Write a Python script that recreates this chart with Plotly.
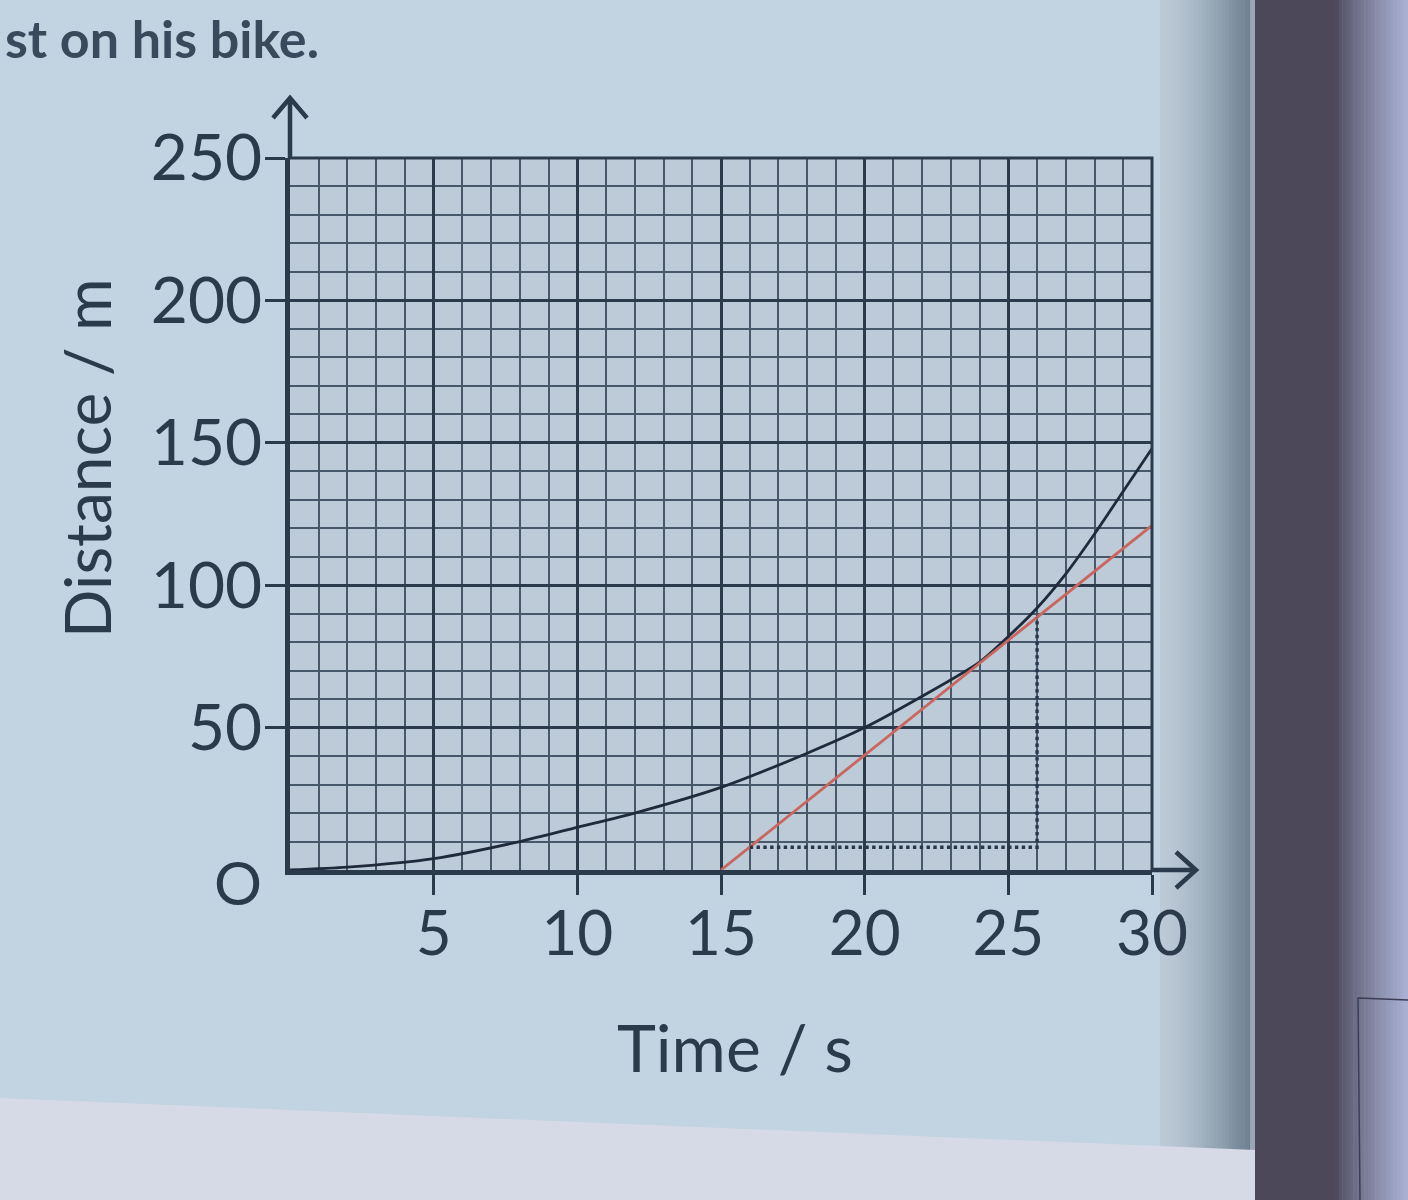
import plotly.graph_objects as go

# ---- data ----
time_s = [0, 2, 5, 8, 10, 12, 15, 18, 20, 22, 24, 25, 26, 27, 28, 29, 30]
distance_m = [0, 1, 4, 10, 15, 20, 29, 41, 50, 61, 73, 82, 92, 104, 118, 133, 148]

tangent_t = [15, 30]
tangent_d = [0, 121]

triangle_t = [16, 26, 26]
triangle_d = [8, 8, 88.7]

x_ticks = [5, 10, 15, 20, 25, 30]
y_ticks = [50, 100, 150, 200, 250]

# ---- layout geometry ----
W, H = 1408, 1200
L, R, T, B = 290, 256, 158, 330
PW, PH = W - L - R, H - T - B


def px(x):
    return (x - L) / PW


def py(y):
    return 1 - (y - T) / PH


INK = "#2c3b4c"
FONT = "Lato"

fig = go.Figure()

fig.add_trace(go.Scatter(x=time_s, y=distance_m, mode="lines",
                         line=dict(color="#1f2b3b", width=2.8, shape="spline", smoothing=0.7),
                         hoverinfo="skip", showlegend=False))
fig.add_trace(go.Scatter(x=tangent_t, y=tangent_d, mode="lines",
                         line=dict(color="#c9675e", width=2.8),
                         hoverinfo="skip", showlegend=False))
fig.add_trace(go.Scatter(x=triangle_t, y=triangle_d, mode="lines",
                         line=dict(color="#27364a", width=3.4, dash="dot"),
                         hoverinfo="skip", showlegend=False))

shapes = []


def rect(x0, y0, x1, y1, color):
    shapes.append(dict(type="rect", xref="paper", yref="paper",
                       x0=px(x0), x1=px(x1), y0=py(y1), y1=py(y0),
                       fillcolor=color, line=dict(width=0), layer="below"))


def mix(c1, c2, f):
    a = [int(c1[i:i + 2], 16) for i in (1, 3, 5)]
    b = [int(c2[i:i + 2], 16) for i in (1, 3, 5)]
    return "#" + "".join(f"{round(a[k] + (b[k] - a[k]) * f):02x}" for k in range(3))


# page shading towards the gutter
n = 24
for i in range(n):
    x0 = 1160 + (1252 - 1160) * i / n
    x1 = 1160 + (1252 - 1160) * (i + 1) / n + 0.5
    rect(x0, 0, x1, 1200, mix("#bccad6", "#6c7f91", (i / (n - 1)) ** 1.4))
rect(1250, 0, 1255, 1200, "#9aa6b4")
rect(1255, 0, 1335, 1200, "#4c4859")
n2 = 20
for i in range(n2):
    x0 = 1335 + (1408 - 1335) * i / n2
    x1 = 1335 + (1408 - 1335) * (i + 1) / n2 + 0.5
    rect(x0, 0, x1, 1200, mix("#4e4a5c", "#a9b0d2", (i / (n2 - 1)) ** 0.8))
# bottom lighter strip
shapes.append(dict(type="path", xref="paper", yref="paper", layer="below",
                   path=f"M{px(0)},{py(1098)} L{px(1255)},{py(1150)} L{px(1255)},{py(1200)} L{px(0)},{py(1200)} Z",
                   fillcolor="#d6d9e6", line=dict(width=0)))
# white box outline at bottom right
shapes.append(dict(type="path", xref="paper", yref="paper", layer="below",
                   path=f"M{px(1408)},{py(1000)} L{px(1358)},{py(998)} L{px(1360)},{py(1200)}",
                   line=dict(color="#3c3c55", width=1.5)))

# axis arrows
shapes.append(dict(type="path", xref="paper", yref="paper",
                   path=(f"M{px(L)},{py(T)} L{px(L)},{py(T - 58)} "
                         f"M{px(L - 17)},{py(T - 40)} L{px(L)},{py(T - 60)} L{px(L + 17)},{py(T - 40)}"),
                   line=dict(color=INK, width=4.5)))
xe = L + PW
ye = T + PH
shapes.append(dict(type="path", xref="paper", yref="paper",
                   path=(f"M{px(xe)},{py(ye)} L{px(xe + 42)},{py(ye)} "
                         f"M{px(xe + 24)},{py(ye - 18)} L{px(xe + 44)},{py(ye)} L{px(xe + 24)},{py(ye + 18)}"),
                   line=dict(color=INK, width=4.5)))
shapes.append(dict(type="path", xref="paper", yref="paper",
                   path="M0,1 L1,1 L1,0", line=dict(color=INK, width=3)))

annotations = [
    dict(text="Distance / m", xref="paper", yref="paper", x=px(86), y=py(458),
         xanchor="center", yanchor="middle",
         textangle=-90, showarrow=False, font=dict(family=FONT, size=64, color=INK)),
    dict(text="Time / s", xref="paper", yref="paper", x=px(735), y=py(1046),
         xanchor="center", yanchor="middle",
         showarrow=False, font=dict(family=FONT, size=66, color=INK)),
    dict(text="O", xref="paper", yref="paper", x=px(238), y=py(882),
         xanchor="center", yanchor="middle",
         showarrow=False, font=dict(family=FONT, size=60, color=INK)),
    dict(text="<b>st on his bike.</b>", xref="paper", yref="paper", x=px(4), y=py(38),
         xanchor="left", yanchor="middle", showarrow=False, borderpad=0,
         font=dict(family=FONT, size=52, color="#3a4a5c")),
]

fig.update_layout(
    width=W, height=H,
    margin=dict(l=L, r=R, t=T, b=B),
    paper_bgcolor="#c2d3e1",
    plot_bgcolor="#bdcbd8",
    shapes=shapes,
    annotations=annotations,
    showlegend=False,
    font=dict(family=FONT, color=INK),
)

fig.update_xaxes(range=[0, 30], tickvals=x_ticks, ticktext=[str(v) for v in x_ticks],
                 showline=True, linecolor=INK, linewidth=5,
                 ticks="outside", ticklen=20, tickwidth=3, tickcolor=INK,
                 ticklabelstandoff=-14,
                 tickfont=dict(family=FONT, size=62, color=INK),
                 showgrid=True, gridcolor=INK, gridwidth=3, zeroline=False,
                 minor=dict(dtick=1, tick0=0, showgrid=True, gridcolor="#46586a", gridwidth=1.7))
fig.update_yaxes(range=[0, 250], tickvals=y_ticks, ticktext=[str(v) for v in y_ticks],
                 showline=True, linecolor=INK, linewidth=5,
                 ticks="outside", ticklen=20, tickwidth=3, tickcolor=INK,
                 ticklabelstandoff=-10,
                 tickfont=dict(family=FONT, size=64, color=INK),
                 showgrid=True, gridcolor=INK, gridwidth=3, zeroline=False,
                 minor=dict(dtick=10, tick0=0, showgrid=True, gridcolor="#46586a", gridwidth=1.7))

fig.write_html("out.html", config={"displayModeBar": False},
               post_script="document.body.style.margin='0';")
